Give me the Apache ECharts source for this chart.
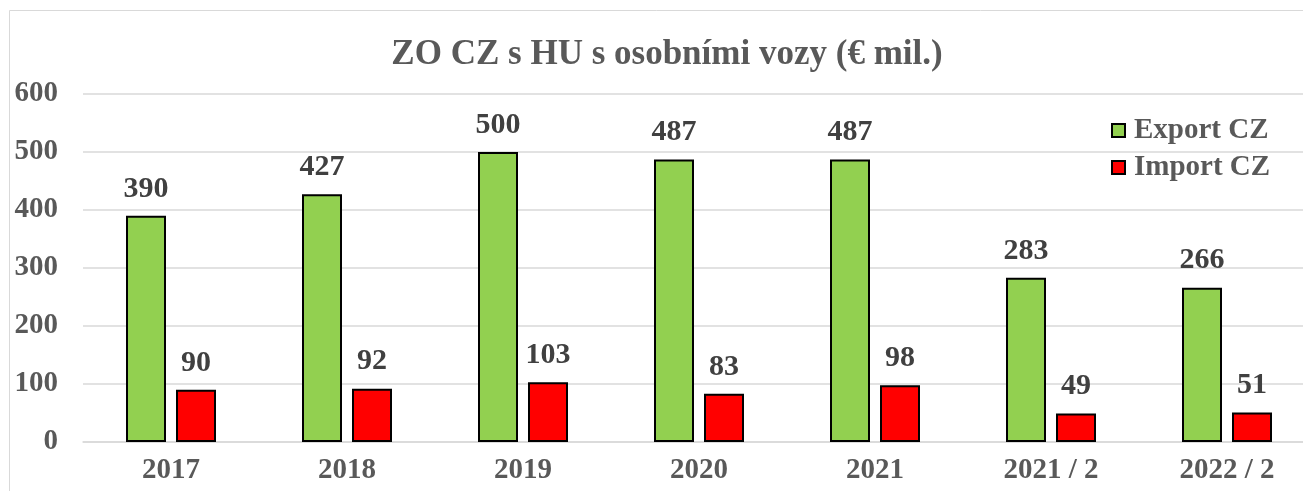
<!DOCTYPE html>
<html><head><meta charset="utf-8">
<script src="https://cdn.jsdelivr.net/npm/echarts@6/dist/echarts.min.js"></script>
<style>html,body{margin:0;padding:0;background:#fff}#c{width:1303px;height:491px}</style>
</head><body><div id="c"></div>
<script>
const categories = ['2017','2018','2019','2020','2021','2021 / 2','2022 / 2'];
const exportCZ = [390,427,500,487,487,283,266];
const importCZ = [90,92,103,83,98,49,51];
const yTicks = {min:0,max:600,interval:100};
const F = '"Liberation Serif", "Times New Roman", serif';
const chart = echarts.init(document.getElementById('c'));
chart.setOption({
  animation:false,
  backgroundColor:'#fff',
  graphic:[{type:'rect',shape:{x:9.5,y:10.5,width:1400,height:600},style:{fill:'none',stroke:'#d9d9d9',lineWidth:1},silent:true}],
  title:{text:'ZO CZ s HU s osobními vozy (€ mil.)',left:662,top:32,textAlign:'center',textStyle:{fontFamily:F,fontWeight:'bold',fontSize:35,color:'#595959'}},
  legend:{orient:'vertical',left:1106,top:111,itemWidth:13,itemHeight:13,itemGap:8,
    textStyle:{fontFamily:F,fontWeight:'bold',fontSize:29,color:'#595959',padding:[0,0,0,4]},
    data:[{name:'Export CZ',icon:'rect'},{name:'Import CZ',icon:'rect'}]},
  grid:{left:83,top:94,width:1232,height:348,containLabel:false,outerBoundsMode:'none'},
  xAxis:{type:'category',data:categories,axisTick:{show:false},
    axisLine:{lineStyle:{color:'#d9d9d9',width:1.5}},
    axisLabel:{fontFamily:F,fontWeight:'bold',fontSize:29,color:'#595959',margin:14}},
  yAxis:{type:'value',min:yTicks.min,max:yTicks.max,interval:yTicks.interval,
    axisLine:{show:false},axisTick:{show:false},
    splitLine:{lineStyle:{color:'#d9d9d9',width:1.5}},
    axisLabel:{fontFamily:F,fontWeight:'bold',fontSize:29,color:'#595959',margin:25}},
  series:[
    {name:'Export CZ',type:'bar',data:exportCZ,barWidth:40,barGap:'25%',
     itemStyle:{color:'#92D050',borderColor:'#000',borderWidth:2},
     label:{show:true,position:'top',distance:12,fontFamily:F,fontWeight:'bold',fontSize:30,color:'#404040'}},
    {name:'Import CZ',type:'bar',data:importCZ,barWidth:40,
     itemStyle:{color:'#FF0000',borderColor:'#000',borderWidth:2},
     label:{show:true,position:'top',distance:12,fontFamily:F,fontWeight:'bold',fontSize:30,color:'#404040'}}
  ]
});
</script></body></html>
